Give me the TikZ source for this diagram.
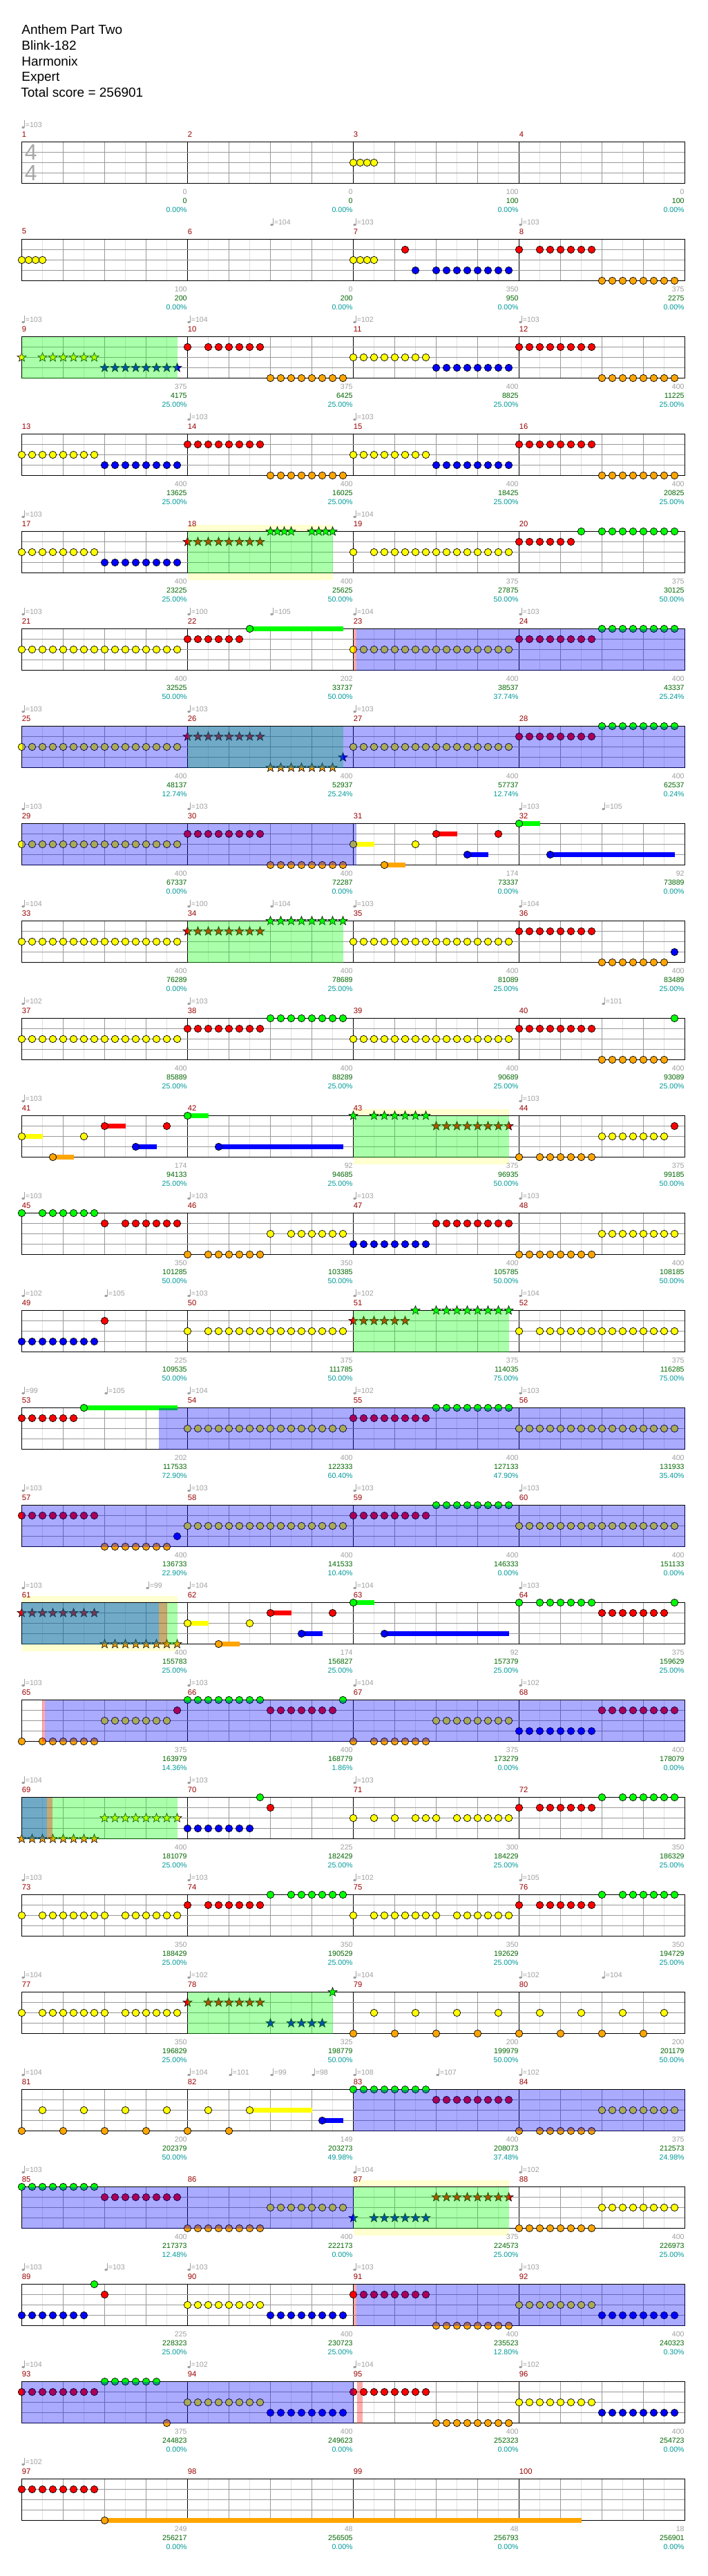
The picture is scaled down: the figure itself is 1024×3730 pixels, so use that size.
\documentclass[tikz,border=0pt]{standalone}
\usepackage{fontspec}
\setmainfont{Liberation Sans}
\usetikzlibrary{shapes.geometric}
\definecolor{lane0}{HTML}{00FF00}
\definecolor{lane1}{HTML}{FF0000}
\definecolor{lane2}{HTML}{FFFF00}
\definecolor{lane3}{HTML}{0000FF}
\definecolor{lane4}{HTML}{FFA500}
\definecolor{barnumclr}{HTML}{990000}
\definecolor{softgray}{HTML}{A0A0A0}
\definecolor{scoreclr}{HTML}{006600}
\definecolor{pctclr}{HTML}{009999}
\definecolor{beatclr}{HTML}{999999}
\definecolor{halfclr}{HTML}{E0E0E0}
\definecolor{spwideclr}{HTML}{FFFFD0}
\definecolor{sigclr}{HTML}{A8A8A8}

\begin{document}
\begin{tikzpicture}[x=0.5pt, y=-0.5pt,
  note/.style={draw=black, line width=0.35pt},
  starnote/.style={star, star points=5, star point ratio=2.4, minimum size=6.8pt,
    inner sep=0pt, draw=black, line width=0.3pt},
  lbl/.style={inner sep=0pt, font=\fontsize{5.3}{6}\selectfont},
  barnum/.style={lbl, barnumclr, anchor=west, font=\fontsize{5.6}{6}\selectfont},
  heading/.style={inner sep=0pt, anchor=base west, font=\fontsize{9.5}{11}\selectfont},
  halfline/.style={halfclr, line width=0.5pt},
  beatline/.style={beatclr, line width=0.5pt},
  barline/.style={black, line width=0.5pt},
  staffedge/.style={black, line width=0.7pt}]

% --- page --------------------------------------------------------------
\fill[white] (0,0) rectangle (1024,3730);
\useasboundingbox (0,0) rectangle (1024,3730);

% --- song header ---------------------------------------------------------
\node[heading] (song) at (31,49.3) {Anthem Part Two};
\node[heading] (band) at (31,72.2) {Blink-182};
\node[heading] (chart) at (31,95.1) {Harmonix};
\node[heading] (level) at (31,118) {Expert};
\node[heading] (total) at (30,140.9) {Total score = 256901};

% --- star power lead-in bands (outside the staff) -----------------------
\foreach \rw/\qa/\qb in {4/16/30, 10/32/47, 15/0/15, 21/32/47} {
  \fill[spwideclr] ({31.5+15*\qa},{195.5+141*\rw}) rectangle ({31.5+15*\qb},{205.5+141*\rw});
  \fill[spwideclr] ({31.5+15*\qa},{265.5+141*\rw}) rectangle ({31.5+15*\qb},{275.5+141*\rw});
}

% --- staves, 25 rows of four measures -----------------------------------
\foreach \rw in {0,...,24} {
  \begin{scope}[shift={(0,{141*\rw})}]
    \foreach \j in {0,...,15} \draw[halfline] ({61.5+60*\j},205.5) -- ({61.5+60*\j},265.5);
    \foreach \j in {1,...,15} \draw[beatline] ({31.5+60*\j},205.5) -- ({31.5+60*\j},265.5);
    \foreach \j in {1,2,3} \draw[barline] ({31.5+240*\j},205.5) -- ({31.5+240*\j},265.5);
    \foreach \j in {1,2,3} \draw[beatline] (31.5,{205.5+15*\j}) -- (991.5,{205.5+15*\j});
    \draw[staffedge] (31.5,205.5) rectangle (991.5,265.5);
    \foreach \m in {0,...,3} {
      \pgfmathtruncatemacro\mn{4*\rw+\m+1}
      \node[barnum] at ({31.5+240*\m},194.2) {\mn};
    }
  \end{scope}
}

% time signature
\node[inner sep=0pt, sigclr, font=\fontsize{16}{16}\selectfont] (sigtop) at (44.8,220.8) {4};
\node[inner sep=0pt, sigclr, font=\fontsize{16}{16}\selectfont] (sigbot) at (44.8,250.7) {4};

% --- tempo marks: row/position(16ths)/bpm -------------------------------
\foreach \rw/\qs/\bpm in {0/0/103,
  1/24/104, 1/32/103, 1/48/103,
  2/0/103, 2/16/104, 2/32/102, 2/48/103,
  3/16/103, 3/32/103,
  4/0/103, 4/32/104,
  5/0/103, 5/16/100, 5/24/105, 5/32/104, 5/48/103,
  6/0/103, 6/16/103, 6/32/103,
  7/0/103, 7/16/103, 7/48/103, 7/56/105,
  8/0/104, 8/16/100, 8/24/104, 8/32/103, 8/48/104,
  9/0/102, 9/16/103, 9/56/101,
  10/0/103, 10/48/103,
  11/0/103, 11/16/103, 11/32/103, 11/48/103,
  12/0/102, 12/8/105, 12/16/103, 12/32/102, 12/48/104,
  13/0/99, 13/8/105, 13/16/104, 13/32/102, 13/48/103,
  14/0/103, 14/16/103, 14/32/103, 14/48/103,
  15/0/103, 15/12/99, 15/16/104, 15/32/104, 15/48/103,
  16/0/103, 16/16/103, 16/32/104, 16/48/102,
  17/0/104, 17/16/103, 17/32/103,
  18/0/103, 18/16/103, 18/32/102, 18/48/105,
  19/0/104, 19/16/102, 19/32/104, 19/48/102, 19/56/104,
  20/0/104, 20/16/104, 20/20/101, 20/24/99, 20/28/98, 20/32/108, 20/40/107, 20/48/102,
  21/0/103, 21/32/104, 21/48/102,
  22/0/103, 22/8/103, 22/16/103, 22/32/103, 22/48/103,
  23/0/104, 23/16/102, 23/32/104, 23/48/102,
  24/0/102} {
  \begin{scope}[shift={({31.5+15*\qs},{205.5+141*\rw})}]
    \fill[softgray] (2,-21) ellipse (1.1pt and 0.8pt);
    \draw[softgray, line width=0.4pt] (3.9,-21) -- (3.9,-31);
    \node[lbl, softgray, anchor=west] at (5,-24.2) {=\bpm};
  \end{scope}
}

% --- measure scores: measure/points/running total/percent ---------------
\foreach \n/\pts/\run/\pct in {1/0/0/0.00, 2/0/0/0.00, 3/100/100/0.00, 4/0/100/0.00,
  5/100/200/0.00, 6/0/200/0.00, 7/350/950/0.00, 8/375/2275/0.00,
  9/375/4175/25.00, 10/375/6425/25.00, 11/400/8825/25.00, 12/400/11225/25.00,
  13/400/13625/25.00, 14/400/16025/25.00, 15/400/18425/25.00, 16/400/20825/25.00,
  17/400/23225/25.00, 18/400/25625/50.00, 19/375/27875/50.00, 20/375/30125/50.00,
  21/400/32525/50.00, 22/202/33737/50.00, 23/400/38537/37.74, 24/400/43337/25.24,
  25/400/48137/12.74, 26/400/52937/25.24, 27/400/57737/12.74, 28/400/62537/0.24,
  29/400/67337/0.00, 30/400/72287/0.00, 31/174/73337/0.00, 32/92/73889/0.00,
  33/400/76289/0.00, 34/400/78689/25.00, 35/400/81089/25.00, 36/400/83489/25.00,
  37/400/85889/25.00, 38/400/88289/25.00, 39/400/90689/25.00, 40/400/93089/25.00,
  41/174/94133/25.00, 42/92/94685/25.00, 43/375/96935/50.00, 44/375/99185/50.00,
  45/350/101285/50.00, 46/350/103385/50.00, 47/400/105785/50.00, 48/400/108185/50.00,
  49/225/109535/50.00, 50/375/111785/50.00, 51/375/114035/75.00, 52/375/116285/75.00,
  53/202/117533/72.90, 54/400/122333/60.40, 55/400/127133/47.90, 56/400/131933/35.40,
  57/400/136733/22.90, 58/400/141533/10.40, 59/400/146333/0.00, 60/400/151133/0.00,
  61/400/155783/25.00, 62/174/156827/25.00, 63/92/157379/25.00, 64/375/159629/25.00,
  65/375/163979/14.36, 66/400/168779/1.86, 67/375/173279/0.00, 68/400/178079/0.00,
  69/400/181079/25.00, 70/225/182429/25.00, 71/300/184229/25.00, 72/350/186329/25.00,
  73/350/188429/25.00, 74/350/190529/25.00, 75/350/192629/25.00, 76/350/194729/25.00,
  77/350/196829/25.00, 78/325/198779/50.00, 79/200/199979/50.00, 80/200/201179/50.00,
  81/200/202379/50.00, 82/149/203273/49.98, 83/400/208073/37.48, 84/375/212573/24.98,
  85/400/217373/12.48, 86/400/222173/0.00, 87/375/224573/25.00, 88/400/226973/25.00,
  89/225/228323/25.00, 90/400/230723/25.00, 91/400/235523/12.80, 92/400/240323/0.30,
  93/375/244823/0.00, 94/400/249623/0.00, 95/400/252323/0.00, 96/400/254723/0.00,
  97/249/256217/0.00, 98/48/256505/0.00, 99/48/256793/0.00, 100/18/256901/0.00} {
  \pgfmathtruncatemacro\rw{(\n-1)/4}
  \pgfmathtruncatemacro\ms{\n-4*\rw}
  \node[lbl, softgray, anchor=east] at ({31.5+240*\ms-0.5},{205.5+141*\rw+72.2}) {\pts};
  \node[lbl, scoreclr, anchor=east] at ({31.5+240*\ms-0.5},{205.5+141*\rw+85.8}) {\run};
  \node[lbl, pctclr, anchor=east] at ({31.5+240*\ms-0.5},{205.5+141*\rw+98.7}) {\pct\%};
}

% --- sustains: row/lane/from/to -----------------------------------------
\foreach \rw/\lane/\qa/\qb in {5/0/22/31,
  7/2/32/34, 7/4/35/37, 7/1/40/42, 7/3/43/45, 7/0/48/50, 7/3/51/63,
  10/2/0/2, 10/4/3/5, 10/1/8/10, 10/3/11/13, 10/0/16/18, 10/3/19/31,
  13/0/6/15,
  15/2/16/18, 15/4/19/21, 15/1/24/26, 15/3/27/29, 15/0/32/34, 15/3/35/47,
  20/2/22/28, 20/3/29/31,
  24/4/8/54} {
  \fill[lane\lane] ({31.5+15*\qa},{205.5+141*\rw+15*\lane-3.3})
    rectangle ({31.5+15*\qb},{205.5+141*\rw+15*\lane+3.3});
  \filldraw[note, fill=lane\lane] ({31.5+15*\qa},{205.5+141*\rw+15*\lane}) circle[radius=2.6pt];
}

% --- note runs: row/lane/start/count/step -------------------------------
\foreach \rw/\lane/\qs/\cnt/\stp in {0/2/32/4/0.667,
  1/2/0/4/0.667, 1/2/32/4/0.667, 1/1/37/1/1, 1/3/38/1/1, 1/3/40/8/1, 1/1/48/1/1, 1/1/50/6/1, 1/4/56/8/1,
  2/1/16/1/1, 2/1/18/6/1, 2/4/24/8/1, 2/2/32/8/1, 2/3/40/8/1, 2/1/48/8/1, 2/4/56/8/1,
  3/2/0/8/1, 3/3/8/8/1, 3/1/16/8/1, 3/4/24/8/1, 3/2/32/8/1, 3/3/40/8/1, 3/1/48/8/1, 3/4/56/8/1,
  4/2/0/8/1, 4/3/8/8/1, 4/2/32/1/1, 4/2/34/14/1, 4/1/48/6/1, 4/0/54/1/1, 4/0/56/8/1,
  5/2/0/16/1, 5/1/16/6/1, 5/2/32/16/1, 5/1/48/8/1, 5/0/56/8/1,
  6/2/0/16/1, 6/2/32/16/1, 6/1/48/8/1, 6/0/56/8/1,
  7/2/0/16/1, 7/1/16/8/1, 7/4/24/8/1, 7/2/38/1/1, 7/1/46/1/1,
  8/2/0/16/1, 8/2/32/16/1, 8/1/48/8/1, 8/4/56/7/1, 8/3/63/1/1,
  9/2/0/16/1, 9/1/16/8/1, 9/0/24/8/1, 9/2/32/16/1, 9/1/48/8/1, 9/4/56/7/1, 9/0/63/1/1,
  10/2/6/1/1, 10/1/14/1/1, 10/4/48/1/1, 10/4/50/6/1, 10/2/56/7/1, 10/1/63/1/1,
  11/0/0/1/1, 11/0/2/6/1, 11/1/8/1/1, 11/1/10/6/1, 11/4/16/1/1, 11/4/18/6/1, 11/2/24/1/1, 11/2/26/6/1,
  11/3/32/8/1, 11/1/40/8/1, 11/4/48/8/1, 11/2/56/8/1,
  12/3/0/8/1, 12/1/8/1/1, 12/2/16/1/1, 12/2/18/14/1, 12/2/48/1/1, 12/2/50/14/1,
  13/1/0/6/1, 13/2/16/16/1, 13/1/32/8/1, 13/0/40/8/1, 13/2/48/16/1,
  14/1/0/8/1, 14/4/8/7/1, 14/3/15/1/1, 14/2/16/16/1, 14/1/32/8/1, 14/0/40/8/1, 14/2/48/16/1,
  15/2/22/1/1, 15/1/30/1/1, 15/0/48/1/1, 15/0/50/6/1, 15/1/56/7/1, 15/0/63/1/1,
  16/4/0/1/1, 16/4/2/6/1, 16/2/8/7/1, 16/1/15/1/1, 16/0/16/8/1, 16/1/24/7/1, 16/0/31/1/1,
  16/4/32/1/1, 16/4/34/6/1, 16/2/40/8/1, 16/3/48/8/1, 16/1/56/8/1,
  17/3/16/7/1, 17/0/23/1/1, 17/1/24/1/1, 17/2/32/3/2, 17/2/38/3/1, 17/2/42/6/1,
  17/1/48/1/1, 17/1/50/6/1, 17/0/56/1/1, 17/0/58/6/1,
  18/2/0/1/1, 18/2/2/7/1, 18/2/10/6/1, 18/1/16/1/1, 18/1/18/6/1, 18/0/24/1/1, 18/0/26/6/1,
  18/2/32/1/1, 18/2/34/7/1, 18/2/42/6/1, 18/1/48/1/1, 18/1/50/6/1, 18/0/56/1/1, 18/0/58/6/1,
  19/2/0/1/1, 19/2/2/7/1, 19/2/10/6/1, 19/4/32/8/4, 19/2/34/8/4,
  20/4/0/4/4, 20/2/2/4/4, 20/4/16/1/1, 20/2/18/1/1, 20/4/20/1/1,
  20/0/32/8/1, 20/1/40/8/1, 20/4/48/1/1, 20/4/50/6/1, 20/2/56/8/1,
  21/0/0/8/1, 21/1/8/8/1, 21/4/16/8/1, 21/2/24/8/1, 21/4/48/8/1, 21/2/56/8/1,
  22/3/0/7/1, 22/0/7/1/1, 22/1/8/1/1, 22/2/16/8/1, 22/3/24/8/1, 22/1/32/8/1, 22/4/40/8/1,
  22/2/48/8/1, 22/3/56/8/1,
  23/1/0/8/1, 23/0/8/6/1, 23/4/14/1/1, 23/2/16/8/1, 23/3/24/8/1, 23/1/32/8/1, 23/4/40/8/1,
  23/2/48/8/1, 23/3/56/8/1,
  24/1/0/8/1} {
  \foreach \i in {1,...,\cnt}
    \filldraw[note, fill=lane\lane] ({31.5+15*(\qs+(\i-1)*\stp)},{205.5+141*\rw+15*\lane}) circle[radius=2.6pt];
}

% --- star power notes: row/lane/start/count/step ------------------------
\foreach \rw/\lane/\qs/\cnt/\stp in {2/2/0/1/1, 2/2/2/6/1, 2/3/8/8/1,
  4/1/16/8/1, 4/0/24/4/0.667, 4/0/28/4/0.667,
  6/1/16/8/1, 6/4/24/7/1, 6/3/31/1/1,
  8/1/16/8/1, 8/0/24/8/1,
  10/0/32/1/1, 10/0/34/6/1, 10/1/40/8/1,
  12/1/32/6/1, 12/0/38/1/1, 12/0/40/8/1,
  15/1/0/8/1, 15/4/8/8/1,
  17/4/0/8/1, 17/2/8/8/1,
  19/1/16/1/1, 19/1/18/6/1, 19/3/24/1/1, 19/3/26/4/1, 19/0/30/1/1,
  21/3/32/1/1, 21/3/34/6/1, 21/1/40/8/1} {
  \foreach \i in {1,...,\cnt}
    \node[starnote, fill=lane\lane] at ({31.5+15*(\qs+(\i-1)*\stp)},{205.5+141*\rw+15*\lane}) {};
}

% --- star power phrases (green tint) ------------------------------------
\foreach \rw/\qa/\qb in {2/0/15, 4/16/30, 6/16/31, 8/16/31, 10/32/47, 12/32/47,
  15/0/15, 17/0/15, 19/16/30, 21/32/47}
  \fill[lane0, opacity=0.333] ({31.5+15*\qa},{205.5+141*\rw}) rectangle ({31.5+15*\qb},{265.5+141*\rw});

% --- star power active (blue tint) --------------------------------------
\foreach \rw/\qa/\qb in {5/32.3/64, 6/0/64, 7/0/32.3, 13/13.2/64, 14/0/64, 15/0/13.2,
  16/2.23/64, 17/0/2.44, 20/32/64, 21/0/32, 22/32.3/64, 23/0/32}
  \fill[lane3, opacity=0.333] ({31.5+15*\qa},{205.5+141*\rw}) rectangle ({31.5+15*\qb},{265.5+141*\rw});

% activation strips (red tint)
\foreach \rw/\qa/\qb in {5/32/32.3, 15/13.2/14, 16/1.97/2.23, 17/2.44/2.97, 22/32/32.3, 23/32.37/32.9}
  \fill[lane1, opacity=0.333] ({31.5+15*\qa},{205.5+141*\rw}) rectangle ({31.5+15*\qb},{265.5+141*\rw});

\end{tikzpicture}
\end{document}
